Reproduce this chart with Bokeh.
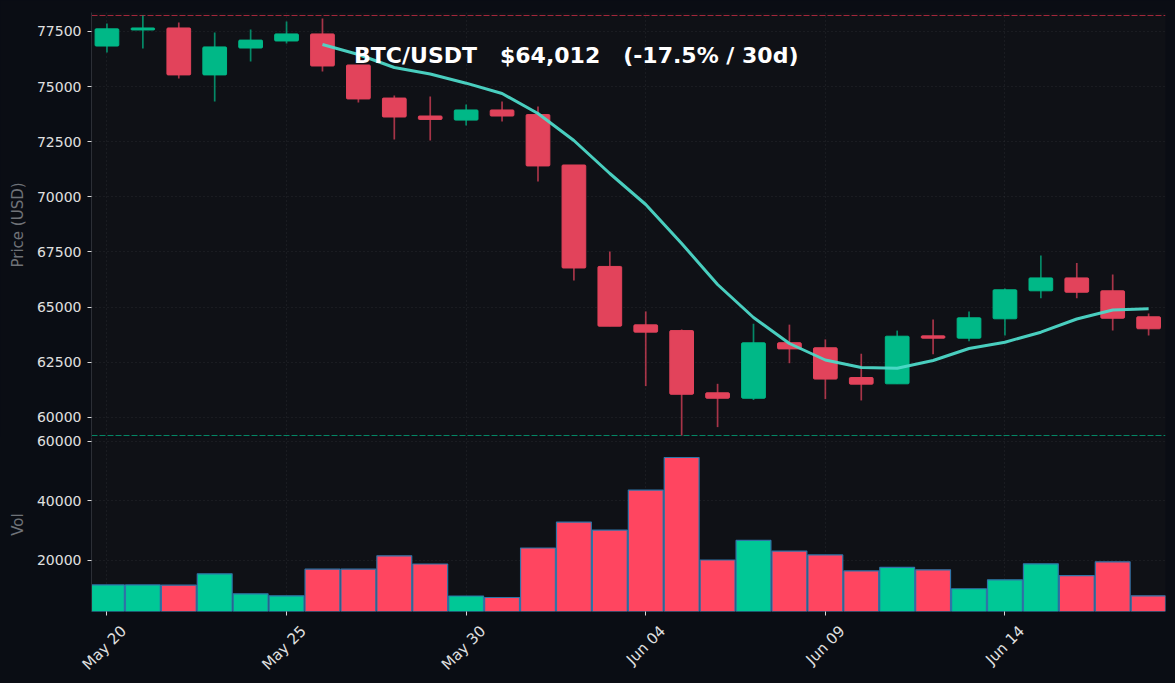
from bokeh.embed import file_html
from bokeh.layouts import column
from bokeh.models import ColumnDataSource, FixedTicker, Label, LinearAxis, Range1d
from bokeh.plotting import figure
from bokeh.resources import INLINE

# daily candles, May 20 - Jun 18
days = list(range(30))
opens = [76840, 77570, 77660, 75530, 76750, 77070, 77390, 75980, 74480, 73666,
         73480, 73940, 73730, 71443, 66840, 64190, 63930, 61107, 60860, 63380,
         63150, 61800, 61515, 63690, 63585, 64465, 65735, 66320, 65735, 64555]
highs = [77860, 78226, 77910, 77450, 77590, 77950, 78090, 75980, 74600, 74550,
         74190, 74320, 74100, 71443, 67520, 64800, 63980, 61515, 64240, 64200,
         63530, 62880, 63930, 64430, 64800, 65840, 67340, 67000, 66470, 64700]
lows = [76550, 76730, 75370, 74320, 76140, 76960, 75690, 74280, 72600, 72550,
        73235, 73420, 70694, 66200, 64130, 61410, 59170, 59550, 60780, 62450,
        60820, 60760, 61515, 62860, 63450, 63710, 65395, 65395, 63930, 63710]
closes = [77620, 77660, 75530, 76800, 77110, 77390, 75935, 74440, 73620, 73510,
          73940, 73665, 71400, 66770, 64130, 63860, 61040, 60860, 63375, 63100,
          61730, 61500, 63675, 63585, 64510, 65780, 66320, 65670, 64490, 64012]
volumes = [11600, 11600, 11500, 15340, 8590, 7900, 16900, 16900, 21400, 18650,
           7850, 7340, 24050, 32800, 30100, 43600, 54600, 20000, 26600, 23000,
           21700, 16300, 17500, 16700, 10300, 13300, 18700, 14700, 19400, 7900]

# 7 day moving average, starts on the 7th candle
ma_days = days[6:]
ma_values = [76910, 76456, 75867, 75572, 75155, 74687, 73780, 72554, 71057, 69651,
             67881, 66021, 64524, 63344, 62595, 62255, 62223, 62572, 63117, 63403,
             63857, 64455, 64864, 64918]

date_ticks = [0, 5, 10, 15, 20, 25]
date_labels = ["May 20", "May 25", "May 30", "Jun 04", "Jun 09", "Jun 14"]
price_ticks = [60000, 62500, 65000, 67500, 70000, 72500, 75000, 77500]
vol_ticks = [20000, 40000, 60000]

PAGE_BG = "#0a0d14"
PANEL_BG = "#0f1116"
UP = "#00c896"
DOWN = "#ff4560"
CANDLE_UP = "#00b887"
CANDLE_DOWN = "#e2435b"
FONT = "DejaVu Sans"
NBSP = "\u00a0"

x_range = Range1d(-0.43, 29.47)


def style(p, ticks):
    p.background_fill_color = PANEL_BG
    p.border_fill_color = PAGE_BG
    p.outline_line_color = None
    p.yaxis.ticker = FixedTicker(ticks=ticks)
    p.yaxis.formatter.use_scientific = False
    p.yaxis.axis_line_color = "#2c2f36"
    p.yaxis.major_tick_line_color = "#d8d8d8"
    p.yaxis.major_tick_in = 0
    p.yaxis.major_tick_out = 4
    p.yaxis.minor_tick_line_color = None
    p.yaxis.major_label_text_color = "#e0e0e0"
    p.yaxis.major_label_text_font = FONT
    p.yaxis.major_label_text_font_size = "14px"
    p.yaxis.major_label_standoff = 6
    p.yaxis.axis_label_text_color = "#6f7278"
    p.yaxis.axis_label_text_font = FONT
    p.yaxis.axis_label_text_font_size = "15px"
    p.yaxis.axis_label_text_font_style = "normal"
    p.yaxis.axis_label_standoff = 7
    p.ygrid.ticker = FixedTicker(ticks=ticks)
    p.xgrid.ticker = FixedTicker(ticks=date_ticks)
    for grid in (p.xgrid, p.ygrid):
        grid.grid_line_color = "#3a3d44"
        grid.grid_line_dash = "1 3"
        grid.grid_line_alpha = 0.55


source = ColumnDataSource(data=dict(
    day=days,
    open=opens,
    high=highs,
    low=lows,
    close=closes,
    volume=volumes,
    color=[UP if c >= o else DOWN for o, c in zip(opens, closes)],
    candle=[CANDLE_UP if c >= o else CANDLE_DOWN for o, c in zip(opens, closes)],
))

# price panel
p_price = figure(
    width=1175, height=437, x_range=x_range, y_range=Range1d(59079, 78362),
    output_backend="svg", toolbar_location=None,
    min_border_left=91, min_border_right=10, min_border_top=12, min_border_bottom=0,
)
style(p_price, price_ticks)
p_price.xaxis.visible = False
p_price.yaxis.axis_label = "Price (USD)"

# session high and low
p_price.hspan(y=[max(highs)], line_color="#e0304c", line_dash="6 2", line_width=1, line_alpha=0.7)
p_price.hspan(y=[min(lows)], line_color="#00b887", line_dash="6 2", line_width=1, line_alpha=0.7)

p_price.segment(x0="day", y0="low", x1="day", y1="high", color="candle",
                line_width=1.7, line_alpha=0.72, source=source)
p_price.vbar(x="day", top="open", bottom="close", width=0.66, fill_color="candle",
             line_color="candle", border_radius=1, source=source)
p_price.line(ma_days, ma_values, color="#4dd9c8", line_width=3, line_alpha=0.95)

p_price.add_layout(Label(
    x=6.88, y=76410,
    text=f"BTC/USDT{NBSP*3}$64,012{NBSP*3}(-17.5% / 30d)",
    text_color="#ffffff", text_font=FONT, text_font_size="22px",
    text_font_style="bold", text_baseline="middle",
))

# volume panel, its canvas starts 8px above the frame so the top tick label is not cut
p_vol = figure(
    width=1175, height=254, x_range=x_range, y_range=Range1d(2619, 61344),
    output_backend="svg", toolbar_location=None, margin=(-8, 0, 0, 0),
    min_border_left=91, min_border_right=10, min_border_top=8, min_border_bottom=72,
)
style(p_vol, vol_ticks)
p_vol.border_fill_alpha = 0
p_vol.yaxis.axis_label = "Vol"
p_vol.vbar(x="day", top="volume", bottom=0, width=0.97, fill_color="color",
           line_color="#2f74a8", line_width=1.2, source=source)

p_vol.xaxis.ticker = FixedTicker(ticks=date_ticks)
p_vol.xaxis.major_label_overrides = {t: "" for t in date_ticks}
p_vol.xaxis.major_label_standoff = 0
p_vol.xaxis.axis_line_color = None
p_vol.xaxis.major_tick_line_color = "#d8d8d8"
p_vol.xaxis.major_tick_in = 0
p_vol.xaxis.major_tick_out = 4
p_vol.xaxis.minor_tick_line_color = None

# rotated axis labels end at their tick; a second axis moved along x centres them like the reference
label_shift = 0.47
label_ticks = [t + label_shift for t in date_ticks]
date_axis = LinearAxis(
    ticker=FixedTicker(ticks=label_ticks),
    major_label_overrides=dict(zip(label_ticks, date_labels)),
    major_label_orientation=0.785,
    major_label_standoff=7,
    major_label_text_color="#e0e0e0",
    major_label_text_font=FONT,
    major_label_text_font_size="15px",
    axis_line_color=None,
    major_tick_line_color=None,
    minor_tick_line_color=None,
)
p_vol.add_layout(date_axis, "below")

p = column(p_price, p_vol, spacing=0, styles={"background-color": PAGE_BG})

open("out.html", "w").write(file_html(p, INLINE))
